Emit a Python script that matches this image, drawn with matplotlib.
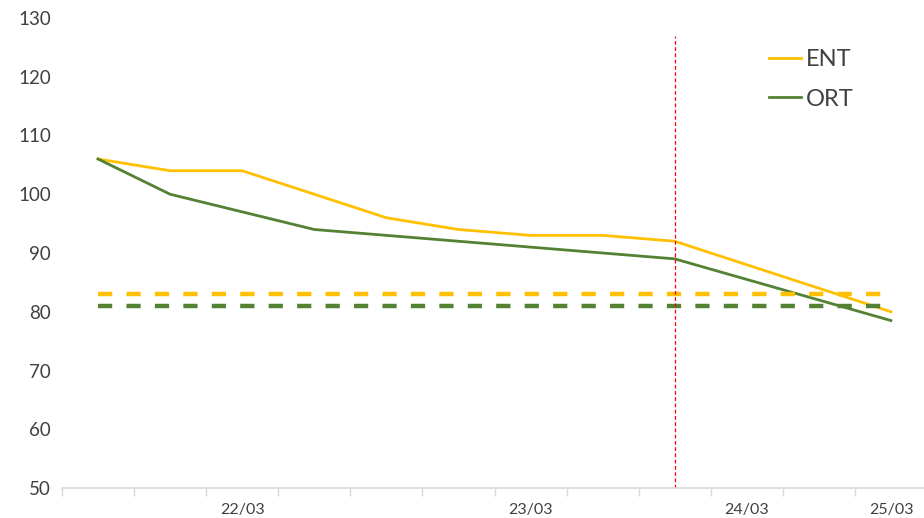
import matplotlib.pyplot as plt
import numpy as np

plt.rcParams["font.family"] = ["Lato", "DejaVu Sans"]

# category labels (only some slots carry a date)
labels = ["", "", "22/03", "", "", "", "23/03", "", "", "24/03", "", "25/03"]
ent = [106, 104, 104, 100, 96, 94, 93, 93, 92, 88, 84, 80]
ort = [106, 100, 97, 94, 93, 92, 91, 90, 89, 85.5, 82, 78.5]
ent_target = 83
ort_target = 81
marker_index = 8
marker_top = 127

YELLOW = "#FFC000"
GREEN = "#548235"
TEXT = "#404040"

if __name__ == "__main__":
    W, H = 924, 518
    fig = plt.figure(figsize=(W / 100, H / 100), dpi=100)
    ax = fig.add_axes([62 / W, 30 / H, 865 / W, 470 / H])

    x = np.arange(len(labels))
    ax.plot(x, ent, color=YELLOW, lw=2, label="ENT", solid_joinstyle="round")
    ax.plot(x, ort, color=GREEN, lw=2, label="ORT", solid_joinstyle="round")

    ax.plot([x[0], x[-1]], [ent_target] * 2, color=YELLOW, lw=3.2,
            dashes=(3.2, 3.2))
    ax.plot([x[0], x[-1]], [ort_target] * 2, color=GREEN, lw=3.2,
            dashes=(3.2, 3.2))

    ax.plot([marker_index, marker_index], [50, marker_top], color="#FF0000",
            lw=0.9, dashes=(3, 2))

    ax.set_xlim(-0.5, len(labels) - 0.5)
    ax.set_ylim(50, 130)
    ax.set_yticks(np.arange(50, 131, 10))
    ax.tick_params(axis="y", length=0, labelsize=13.5, labelcolor=TEXT, pad=8)

    ax.set_xticks(x)
    ax.set_xticklabels(labels)
    ax.set_xticks(np.arange(-0.5, len(labels), 1), minor=True)
    ax.tick_params(axis="x", which="major", length=0, labelsize=11.5,
                   labelcolor=TEXT, pad=11)
    ax.tick_params(axis="x", which="minor", length=6, color="#D9D9D9", width=1)

    for s in ["top", "right", "left"]:
        ax.spines[s].set_visible(False)
    ax.spines["bottom"].set_color("#D9D9D9")
    ax.spines["bottom"].set_linewidth(1.2)

    leg = ax.legend(loc="upper left", bbox_to_anchor=(757 / W, 1 - 37 / H),
                    bbox_transform=fig.transFigure, frameon=False,
                    fontsize=17, handlelength=1.35, handletextpad=0.2,
                    labelspacing=0.8, borderpad=0)
    for t in leg.get_texts():
        t.set_color(TEXT)

    fig.savefig("out.png", dpi=100)
